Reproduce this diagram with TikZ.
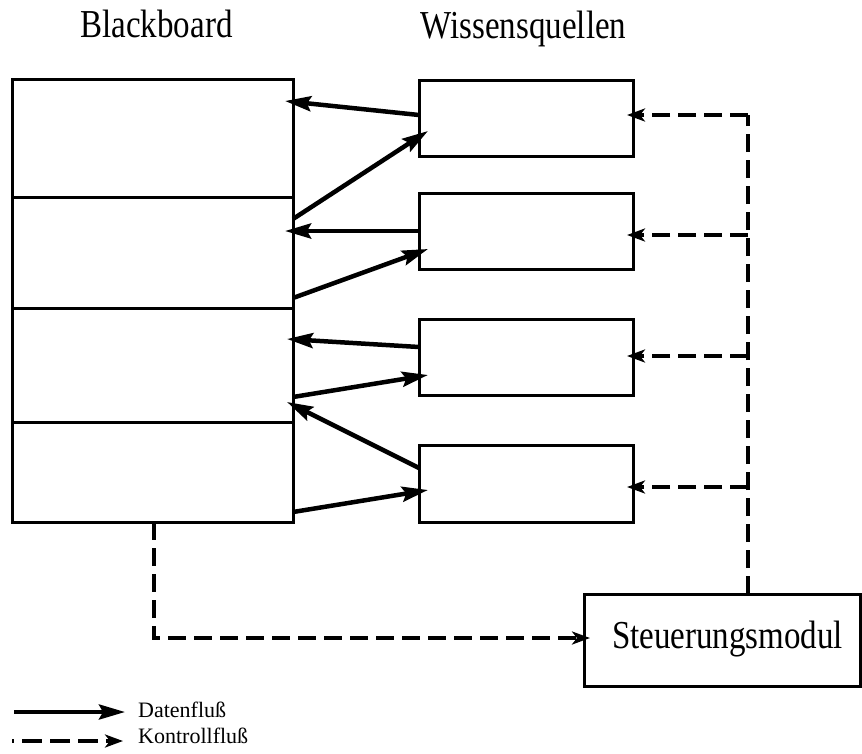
\documentclass[tikz,border=0pt]{standalone}
\usepackage{fontspec}
\setmainfont{Liberation Serif}
\usetikzlibrary{arrows.meta}

\tikzset{
  box/.style={draw, line width=3pt, inner sep=0pt, outer sep=0pt},
  flow/.style={line width=4.5pt, -{Stealth[length=26pt,width=15pt,inset=4pt]}},
  ctl/.style={line width=4.5pt, dash pattern=on 18pt off 8pt,
              -{Stealth[length=18pt,width=13pt,inset=5pt]}},
  title/.style={font=\fontsize{33}{40}\selectfont, anchor=base, inner sep=0pt},
  legend/.style={font=\fontsize{22}{26}\selectfont, anchor=base west, inner sep=0pt}
}

\begin{document}
\begin{tikzpicture}[x=1pt, y=-1pt]
  \useasboundingbox (0,0) rectangle (862,753);

  % headings
  \node[title] (hbb) at (156.5,37) {\scalebox{1}[1.2]{Blackboard}};
  \node[title] (hws) at (523.5,38) {\scalebox{1}[1.2]{Wissensquellen}};

  % blackboard, split into four sections
  \node[box, minimum width=281pt, minimum height=118pt] (bb1) at (152.5,138) {};
  \node[box, minimum width=281pt, minimum height=111pt] (bb2) at (152.5,252.5) {};
  \node[box, minimum width=281pt, minimum height=114pt] (bb3) at (152.5,365) {};
  \node[box, minimum width=281pt, minimum height=100pt] (bb4) at (152.5,472) {};

  % knowledge sources
  \node[box, minimum width=214pt, minimum height=76pt] (ks1) at (526,118) {};
  \node[box, minimum width=214pt, minimum height=76pt] (ks2) at (526,231) {};
  \node[box, minimum width=214pt, minimum height=76pt] (ks3) at (526,357) {};
  \node[box, minimum width=214pt, minimum height=77pt] (ks4) at (526,483.5) {};

  % control module
  \node[box, minimum width=276pt, minimum height=92pt] (sm) at (722,640) {};
  \node[title] (smtext) at (727.5,648) {\scalebox{1}[1.2]{Steuerungsmodul}};

  % data flow between blackboard and knowledge sources
  \draw[flow] ([yshift=3pt]ks1.west) -- ([xshift=-8pt,yshift=37pt]bb1.east);
  \draw[flow] ([yshift=33.5pt]bb2.east) -- ([xshift=9pt,yshift=-13pt]ks1.west);
  \draw[flow] (ks2.west) -- ([xshift=-8pt,yshift=21.5pt]bb2.east);
  \draw[flow] ([yshift=-45.5pt]bb2.east) -- ([xshift=9pt,yshift=-18pt]ks2.west);
  \draw[flow] ([yshift=10pt]ks3.west) -- ([xshift=-6pt,yshift=26pt]bb3.east);
  \draw[flow] ([yshift=-32pt]bb3.east) -- ([xshift=9pt,yshift=-18pt]ks3.west);
  \draw[flow] ([yshift=15.5pt]ks4.west) -- ([xshift=-6pt,yshift=-37pt]bb3.east);
  \draw[flow] ([yshift=-40pt]bb4.east) -- ([xshift=9pt,yshift=-6.5pt]ks4.west);

  % control flow from the control module to the knowledge sources
  \coordinate (t1) at (748,115);
  \coordinate (t2) at (748,235);
  \coordinate (t3) at (748,356);
  \coordinate (t4) at (748,487);
  \draw[ctl, -] ([xshift=26pt]sm.north) -- (t1);
  \draw[ctl] (t1) -- ([xshift=-6pt,yshift=3pt]ks1.east);
  \draw[ctl] (t2) -- ([xshift=-6pt,yshift=-4pt]ks2.east);
  \draw[ctl] (t3) -- ([xshift=-6pt,yshift=1pt]ks3.east);
  \draw[ctl] (t4) -- ([xshift=-6pt,yshift=-3.5pt]ks4.east);

  % control flow from the blackboard to the control module
  \draw[ctl] ([xshift=1.5pt]bb4.south) |- ([xshift=6pt,yshift=2pt]sm.west);

  % legend
  \coordinate (la0) at (14,712);
  \coordinate (la1) at (125,712);
  \coordinate (lb0) at (12,741);
  \coordinate (lb1) at (123,741);
  \node[legend] (lda) at (138,717) {Datenfluß};
  \node[legend] (ldb) at (138,743) {Kontrollfluß};
  \draw[flow, line width=4pt] (la0) -- (la1);
  \draw[ctl, line width=4pt, dash pattern=on 20pt off 8pt, dash phase=18pt] (lb0) -- (lb1);
\end{tikzpicture}
\end{document}
